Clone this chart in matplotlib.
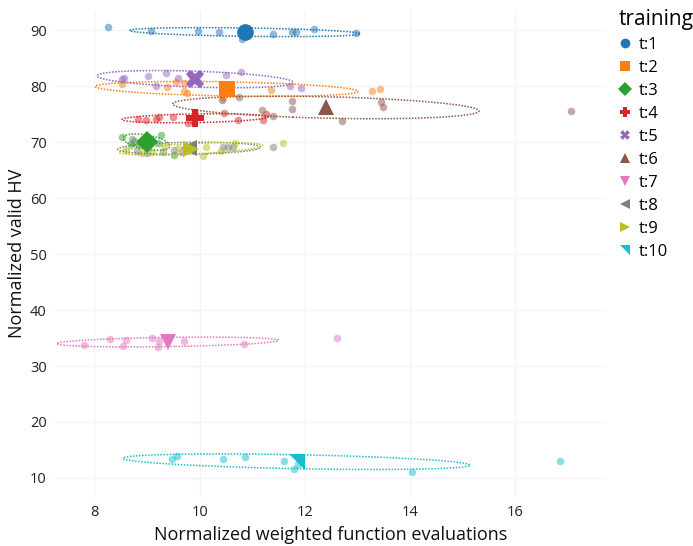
import numpy as np
import matplotlib
matplotlib.use("Agg")
import matplotlib.pyplot as plt
from matplotlib.lines import Line2D
from matplotlib.path import Path

plt.rcParams['font.family'] = ['Open Sans', 'DejaVu Sans']

# ---- data: normalized weighted function evaluations (x) / normalized valid HV (y)
T1_EVALS = [8.26, 9.07, 9.96, 10.37, 10.80, 11.40, 11.76, 11.83, 12.17, 12.97]
T1_HV = [90.5, 89.9, 89.8, 89.6, 88.5, 89.3, 89.6, 89.6, 90.2, 89.5]

T2_EVALS = [8.53, 9.37, 9.54, 9.71, 9.75, 10.44, 11.35, 13.28, 13.43, 9.70]
T2_HV = [80.3, 79.8, 80.8, 80.5, 78.8, 77.8, 79.3, 79.2, 79.4, 79.1]

T3_EVALS = [8.53, 9.26, 9.51, 8.75, 8.85, 8.95, 9.05, 8.70, 9.10, 9.20]
T3_HV = [71.0, 71.2, 67.7, 70.2, 69.5, 70.5, 70.2, 69.6, 70.3, 69.8]

T4_EVALS = [8.82, 8.98, 9.17, 9.22, 9.49, 9.77, 10.47, 10.73, 11.20, 11.25]
T4_HV = [74.2, 73.9, 74.1, 74.5, 74.4, 73.4, 75.2, 73.9, 74.0, 75.0]

T5_EVALS = [8.52, 8.57, 9.02, 9.36, 9.58, 9.16, 10.50, 10.79, 11.72, 11.92]
T5_HV = [81.25, 81.4, 81.8, 82.4, 81.4, 80.05, 81.9, 82.6, 80.05, 79.6]

T6_EVALS = [10.43, 10.75, 11.19, 11.39, 11.75, 11.75, 12.71, 13.44, 13.49, 17.05]
T6_HV = [77.6, 78.0, 75.8, 74.7, 77.3, 75.9, 73.75, 77.1, 76.25, 75.5]

T7_EVALS = [7.80, 8.29, 8.54, 8.59, 9.10, 9.23, 9.71, 10.84, 12.60, 9.20]
T7_HV = [33.7, 34.8, 33.6, 34.6, 35.0, 34.4, 34.4, 34.0, 35.0, 33.4]

T8_EVALS = [8.71, 9.52, 10.45, 10.54, 10.63, 11.39, 8.80, 9.00, 9.30, 9.66]
T8_HV = [70.5, 68.6, 69.2, 69.2, 69.2, 69.2, 68.5, 68.0, 68.3, 68.3]

T9_EVALS = [9.32, 9.58, 10.11, 10.06, 10.67, 11.58, 9.09, 8.60, 8.90, 10.40]
T9_HV = [69.3, 68.9, 69.2, 67.6, 69.8, 69.8, 68.3, 68.6, 68.0, 68.4]

T10_EVALS = [9.48, 9.56, 10.45, 10.86, 11.61, 11.79, 11.91, 14.03, 16.84, 11.87]
T10_HV = [13.34, 13.98, 13.45, 13.7, 12.98, 11.6, 13.34, 11.07, 13.09, 12.5]

LABELS = ["t:1", "t:2", "t:3", "t:4", "t:5", "t:6", "t:7", "t:8", "t:9", "t:10"]
X_TICKS = [8, 10, 12, 14, 16]
Y_TICKS = [10, 20, 30, 40, 50, 60, 70, 80, 90]

series_x = [T1_EVALS, T2_EVALS, T3_EVALS, T4_EVALS, T5_EVALS,
            T6_EVALS, T7_EVALS, T8_EVALS, T9_EVALS, T10_EVALS]
series_y = [T1_HV, T2_HV, T3_HV, T4_HV, T5_HV,
            T6_HV, T7_HV, T8_HV, T9_HV, T10_HV]

colors = ['#1f77b4', '#ff7f0e', '#2ca02c', '#d62728', '#9467bd',
          '#8c564b', '#e377c2', '#7f7f7f', '#bcbd22', '#17becf']

# right-angled triangle with the right angle at the top-right corner
tri_ne = Path([(-1, 1), (1, 1), (1, -1), (-1, 1)],
              [Path.MOVETO, Path.LINETO, Path.LINETO, Path.CLOSEPOLY])
markers = ['o', 's', 'D', 'P', 'X', '^', 'v', '<', '>', tri_ne]
mean_sizes = [12, 11, 11, 13, 13, 11, 11, 11, 11, 11]

fig = plt.figure(figsize=(6.93, 5.46), dpi=100)
ax = fig.add_axes([55 / 693, 1 - 497 / 546, 551 / 693, 487 / 546])

grid_c = '#f1f4f9'
ax.set_xticks(X_TICKS)
ax.set_yticks(Y_TICKS)
ax.grid(True, color=grid_c, linewidth=1)
ax.set_axisbelow(True)
for s in ax.spines.values():
    s.set_visible(False)
ax.tick_params(length=0, labelsize=10.5, pad=6)
for lab in ax.get_xticklabels() + ax.get_yticklabels():
    lab.set_color('#222222')

n_std = 1.5
t = np.linspace(0, 2 * np.pi, 300)
handles = []
for xs, ys, c, m, ms, lab in zip(series_x, series_y, colors, markers, mean_sizes, LABELS):
    xs = np.asarray(xs, float)
    ys = np.asarray(ys, float)
    ax.scatter(xs, ys, s=30, color=c, alpha=0.5, linewidths=0, zorder=2)
    # covariance ellipse around the runs
    cov = np.cov(xs, ys)
    vals, vecs = np.linalg.eigh(cov)
    circ = np.stack([np.cos(t), np.sin(t)])
    pts = vecs @ (np.sqrt(vals)[:, None] * n_std * circ)
    ax.plot(xs.mean() + pts[0], ys.mean() + pts[1], linestyle=(0, (1, 1)),
            color=c, linewidth=1.1, zorder=3)
    ax.plot([xs.mean()], [ys.mean()], marker=m, markersize=ms, color=c,
            markeredgewidth=0, linestyle='none', zorder=4)
    handles.append(Line2D([], [], marker=m, markersize=7, color=c,
                          markeredgewidth=0, linestyle='none', label=lab))

ax.set_xlim(7.25, 17.72)
ax.set_ylim(6.6, 93.6)
ax.set_xlabel('Normalized weighted function evaluations', fontsize=13, color='#111111', labelpad=4)
ax.set_ylabel('Normalized valid HV', fontsize=13, color='#111111', labelpad=3)

leg = fig.legend(handles=handles, title='training', loc='upper left',
                 bbox_to_anchor=(612 / 693, 1 - 2 / 546), frameon=False,
                 fontsize=12, title_fontsize=15, handlelength=0.8,
                 handletextpad=0.4, labelspacing=0.42, borderaxespad=0)
leg._legend_box.align = 'left'

fig.savefig('out.png', dpi=100)
